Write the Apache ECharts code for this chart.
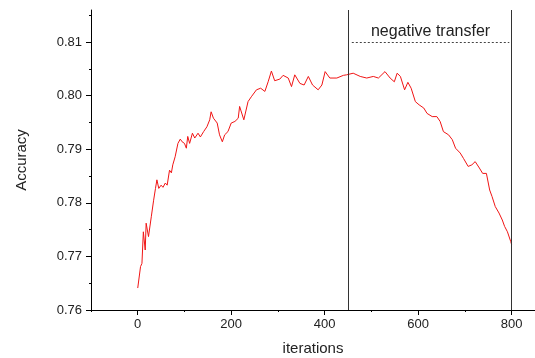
<!DOCTYPE html>
<html>
<head>
<meta charset="utf-8">
<script src="https://cdn.jsdelivr.net/npm/echarts@6/dist/echarts.min.js"></script>
<style>
  html, body { margin: 0; padding: 0; background: #fff; }
  #chart { width: 535px; height: 358px; }
</style>
</head>
<body>
<div id="chart"></div>
<script>
// values
const iterations = [0, 6, 9, 12, 16, 18, 23, 29, 34, 38, 41, 45, 50, 54, 59, 63, 68, 72, 75, 80,
  86, 91, 95, 100, 104, 107, 111, 117, 122, 129, 134, 141, 148, 154, 157, 162, 170, 175, 181, 186,
  193, 200, 208, 215, 218, 227, 236, 243, 254, 263, 272, 279, 286, 293, 304, 311, 322, 329, 336, 347,
  356, 365, 374, 386, 394, 401, 411, 426, 440, 447, 461, 476, 490, 504, 515, 529, 540, 549, 555, 562,
  571, 578, 585, 594, 602, 612, 619, 630, 640, 647, 654, 665, 673, 680, 690, 697, 707, 715, 722, 731,
  738, 746, 753, 758, 765, 773, 780, 785, 791, 798, 800];
const accuracy = [0.7641, 0.7681, 0.7687, 0.7746, 0.7712, 0.7762, 0.7737, 0.7774, 0.7805, 0.7827,
  0.7843, 0.7827, 0.7833, 0.7829, 0.7837, 0.7833, 0.7861, 0.7856, 0.7871, 0.7886,
  0.7911, 0.7919, 0.7914, 0.7911, 0.7902, 0.7924, 0.7911, 0.7930, 0.7921, 0.7930,
  0.7923, 0.7933, 0.7942, 0.7955, 0.7970, 0.7958, 0.7949, 0.7927, 0.7914, 0.7927,
  0.7933, 0.7949, 0.7952, 0.7958, 0.7980, 0.7955, 0.7989, 0.7998, 0.8011, 0.8014,
  0.8008, 0.8026, 0.8046, 0.8028, 0.8031, 0.8038, 0.8033, 0.8017, 0.8039, 0.8023,
  0.8020, 0.8036, 0.8020, 0.8011, 0.8020, 0.8045, 0.8033, 0.8033, 0.8038, 0.8039,
  0.8042, 0.8036, 0.8033, 0.8036, 0.8033, 0.8045, 0.8033, 0.8026, 0.8042, 0.8036,
  0.8011, 0.8025, 0.8014, 0.7989, 0.7983, 0.7977, 0.7967, 0.7961, 0.7961, 0.7952,
  0.7933, 0.7927, 0.7918, 0.7902, 0.7893, 0.7883, 0.7868, 0.7871, 0.7877, 0.7865,
  0.7855, 0.7855, 0.7824, 0.7812, 0.7793, 0.7781, 0.7768, 0.7756, 0.7746, 0.7728, 0.7722];

const xMajor = [0, 200, 400, 600, 800];
const xMinor = [-100, 100, 300, 500, 700];
const yMajor = [0.76, 0.77, 0.78, 0.79, 0.80, 0.81];
const yMinor = [0.765, 0.775, 0.785, 0.795, 0.805, 0.815];
const markers = [450, 800];
const annotation = { text: 'negative transfer', from: 458, to: 795, y: 0.810 };

const font = 'Liberation Sans, Arial, sans-serif';
const chart = echarts.init(document.getElementById('chart'));

const baseX = {
  type: 'value', min: -100, max: 850, splitLine: { show: false }
};
const baseY = {
  type: 'value', min: 0.76, max: 0.816, splitLine: { show: false }
};

chart.setOption({
  animation: false,
  grid: { left: 91, right: 0, top: 10, bottom: 48, outerBoundsMode: 'none', containLabel: false },
  xAxis: [
    Object.assign({}, baseX, {
      name: 'iterations',
      nameLocation: 'middle',
      nameGap: 31,
      nameTextStyle: { fontFamily: font, fontSize: 15, color: '#222' },
      axisLine: { onZero: false, lineStyle: { color: '#000', width: 1 } },
      axisTick: { customValues: xMajor, length: 5, lineStyle: { color: '#000' } },
      axisLabel: { customValues: xMajor, fontFamily: font, fontSize: 13, color: '#222', margin: 8 }
    }),
    Object.assign({}, baseX, {
      position: 'bottom',
      axisLine: { show: false, onZero: false },
      axisTick: { customValues: xMinor, length: 2, lineStyle: { color: '#000' } },
      axisLabel: { show: false }
    })
  ],
  yAxis: [
    Object.assign({}, baseY, {
      name: 'Accuracy',
      nameLocation: 'middle',
      nameGap: 62,
      nameTextStyle: { fontFamily: font, fontSize: 15, color: '#222' },
      axisLine: { show: true, onZero: false, lineStyle: { color: '#000', width: 1 } },
      axisTick: { customValues: yMajor, length: 5, lineStyle: { color: '#000' } },
      axisLabel: {
        customValues: yMajor, fontFamily: font, fontSize: 13, color: '#222', margin: 9,
        formatter: v => v.toFixed(2)
      }
    }),
    Object.assign({}, baseY, {
      position: 'left',
      axisLine: { show: false, onZero: false },
      axisTick: { show: true, customValues: yMinor, length: 2, lineStyle: { color: '#000' } },
      axisLabel: { show: false }
    })
  ],
  series: [{
    type: 'line',
    data: iterations.map((x, i) => [x, accuracy[i]]),
    showSymbol: false,
    lineStyle: { color: '#f01414', width: 1 },
    markLine: {
      silent: true,
      symbol: 'none',
      animation: false,
      data: markers.map(v => ({
        xAxis: v,
        lineStyle: { color: '#333', width: 1, type: 'solid' },
        label: { show: false }
      })).concat([[
        {
          coord: [annotation.from, annotation.y],
          lineStyle: { color: '#444', width: 1, type: [2, 2] },
          label: {
            show: true, position: 'middle', formatter: annotation.text,
            fontFamily: font, fontSize: 16, color: '#222', distance: 3
          }
        },
        { coord: [annotation.to, annotation.y] }
      ]])
    }
  }]
});
</script>
</body>
</html>
